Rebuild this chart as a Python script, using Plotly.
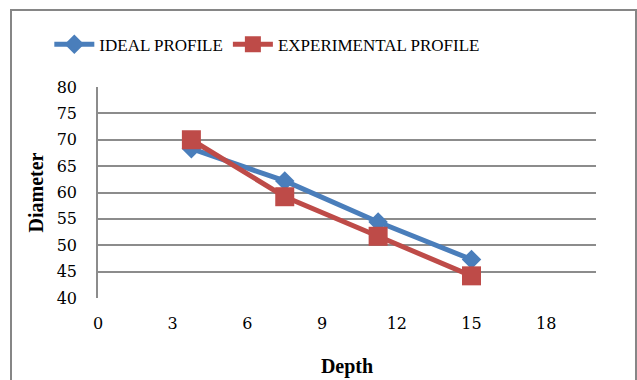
import plotly.graph_objects as go

depth = [3.75, 7.5, 11.25, 15]
ideal = [68.3, 62.2, 54.4, 47.3]
experimental = [70.0, 59.2, 51.7, 44.2]

BLUE = "#4A7EBB"
RED = "#BE4B48"
GRID = "#8C8C8C"
FONT = "Liberation Serif"
TICKFONT = "DejaVu Serif"

fig = go.Figure()
fig.add_trace(go.Scatter(x=depth, y=ideal, name="IDEAL PROFILE", mode="lines+markers",
                         line=dict(color=BLUE, width=5),
                         marker=dict(symbol="diamond", size=15, color=BLUE)))
fig.add_trace(go.Scatter(x=depth, y=experimental, name="EXPERIMENTAL PROFILE", mode="lines+markers",
                         line=dict(color=RED, width=5),
                         marker=dict(symbol="square", size=19, color=RED)))

fig.update_layout(
    width=637, height=380,
    margin=dict(l=98, r=41, t=87, b=82),
    paper_bgcolor="white", plot_bgcolor="white",
    font=dict(family=FONT, size=17, color="black"),
    showlegend=True,
    legend=dict(orientation="h", x=0.34, xanchor="center", y=1.2, yanchor="middle",
                font=dict(family=FONT, size=17, color="black"), itemwidth=40,
                tracegroupgap=0),
    xaxis=dict(range=[0, 20], tickvals=[0, 3, 6, 9, 12, 15, 18], showgrid=False,
               zeroline=False, showline=False, ticks="", ticklabelstandoff=14,
               automargin=False,
               tickfont=dict(family=TICKFONT, size=16, color="black"),
               title=dict(text="<b>Depth</b>", font=dict(family=FONT, size=20), standoff=26)),
    yaxis=dict(range=[40, 80], tickvals=[40, 45, 50, 55, 60, 65, 70, 75, 80], showgrid=True,
               gridcolor=GRID, gridwidth=1.5, zeroline=False, showline=True, linecolor=GRID,
               linewidth=1.5, ticks="", ticklabelstandoff=16, automargin=False,
               tickfont=dict(family=TICKFONT, size=16, color="black"),
               title=dict(text="<b>Diameter</b>", font=dict(family=FONT, size=20), standoff=8)),
    shapes=[dict(type="rect", xref="paper", yref="paper", x0=-0.1747, x1=1.0803,
                 y0=-0.45, y1=1.3655, line=dict(color="#868686", width=2), layer="below")],
)

fig.write_html("out.html")
